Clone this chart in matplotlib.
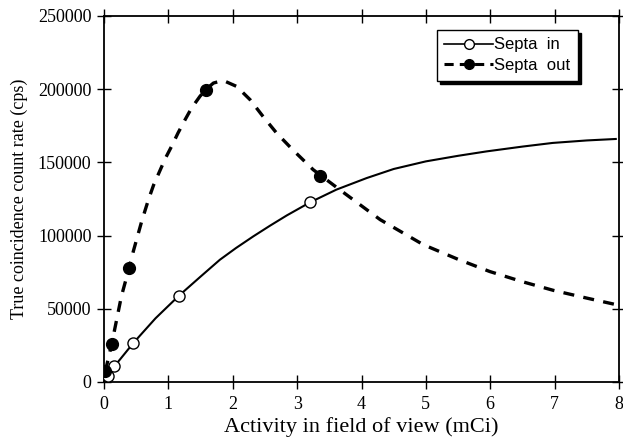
import matplotlib
matplotlib.use("Agg")
import matplotlib.pyplot as plt
from matplotlib.lines import Line2D

# Measured points
septa_in_x = [0.057, 0.16, 0.455, 1.165, 3.2]
septa_in_y = [4300, 10600, 26600, 59000, 122700]
septa_out_x = [0.02, 0.12, 0.39, 1.58, 3.36]
septa_out_y = [7200, 26000, 77600, 199700, 140400]

# Fitted curves through the measurements
in_curve_x = [0.057, 0.16, 0.455, 0.8, 1.165, 1.5, 1.8, 2.05, 2.32, 2.58, 2.84,
              3.2, 3.61, 4.08, 4.5, 5.0, 5.5, 5.94, 6.5, 6.97, 7.5, 7.95]
in_curve_y = [4300, 10600, 26600, 43500, 59000, 72000, 83500, 91500, 99500,
              106800, 113800, 122700, 131400, 139300, 145500, 150700, 154500,
              157500, 160800, 163300, 165000, 166000]
out_curve_x = [0.02, 0.12, 0.27, 0.39, 0.455, 0.585, 0.69, 0.77, 0.87, 0.95, 1.05,
               1.15, 1.26, 1.36, 1.49, 1.58, 1.70, 1.85, 2.06, 2.27, 2.47, 2.68,
               2.93, 3.25, 3.66, 4.29, 4.96, 5.5, 5.99, 6.5, 6.98, 7.5, 7.96]
out_curve_y = [7200, 26000, 58500, 77900, 89200, 109700, 124500, 134500, 144500,
               152500, 161000, 170100, 179200, 187100, 195100, 199700, 204200,
               206000, 201900, 192800, 181400, 170100, 158700, 145000, 131400,
               110900, 93800, 83800, 75500, 68500, 62600, 57300, 52800]

x_ticks = [0, 1, 2, 3, 4, 5, 6, 7, 8]
y_ticks = [0, 50000, 100000, 150000, 200000, 250000]

serif = "Liberation Serif"
sans = "Liberation Sans"

fig = plt.figure(figsize=(6.23, 4.46), dpi=100)
ax = fig.add_axes([104 / 623, (446 - 382) / 446, (619 - 104) / 623, (382 - 16) / 446])

ax.plot(in_curve_x, in_curve_y, color="black", lw=1.5, zorder=2)
ax.plot(out_curve_x, out_curve_y, color="black", lw=2.4, dashes=(3.3, 2.8), zorder=2)
ax.plot(septa_in_x, septa_in_y, "o", ms=8, mfc="white", mec="black", mew=1.0, zorder=3)
ax.plot(septa_out_x, septa_out_y, "o", ms=8.5, mfc="black", mec="black", zorder=3)

ax.set_xlim(0, 8)
ax.set_ylim(0, 250000)
ax.set_xticks(x_ticks)
ax.set_xticklabels([str(t) for t in x_ticks], family=serif, fontsize=13)
ax.set_yticks(y_ticks)
ax.set_yticklabels([str(t) for t in y_ticks], family=serif, fontsize=13)
ax.tick_params(direction="inout", length=10, width=1, top=True, right=True,
               labeltop=False, labelright=False)
ax.tick_params(axis="y", pad=4)
ax.tick_params(axis="x", pad=5)
for s in ax.spines.values():
    s.set_linewidth(1.3)

ax.set_xlabel("Activity in field of view (mCi)", family=serif, fontsize=16, labelpad=3)
ax.set_ylabel("True coincidence count rate (cps)", family=serif, fontsize=13, labelpad=7)

handles = [
    Line2D([], [], color="black", lw=1.2, marker="o", ms=7, mfc="white", mec="black"),
    Line2D([], [], color="black", lw=2.2, dashes=(3, 2), marker="o", ms=7, mfc="black"),
]
leg = ax.legend(handles, ["Septa  in", "Septa  out"], loc="upper right",
                bbox_to_anchor=(578 / 623, (446 - 30) / 446), bbox_transform=fig.transFigure,
                prop={"family": sans, "size": 12}, frameon=True, fancybox=False,
                shadow={"color": "black", "alpha": 1.0}, handlelength=2.9,
                handletextpad=0.1, borderpad=0.45, labelspacing=0.35, borderaxespad=0)
leg.get_frame().set_edgecolor("black")
leg.get_frame().set_linewidth(1.0)

fig.savefig("out.png", dpi=100)
